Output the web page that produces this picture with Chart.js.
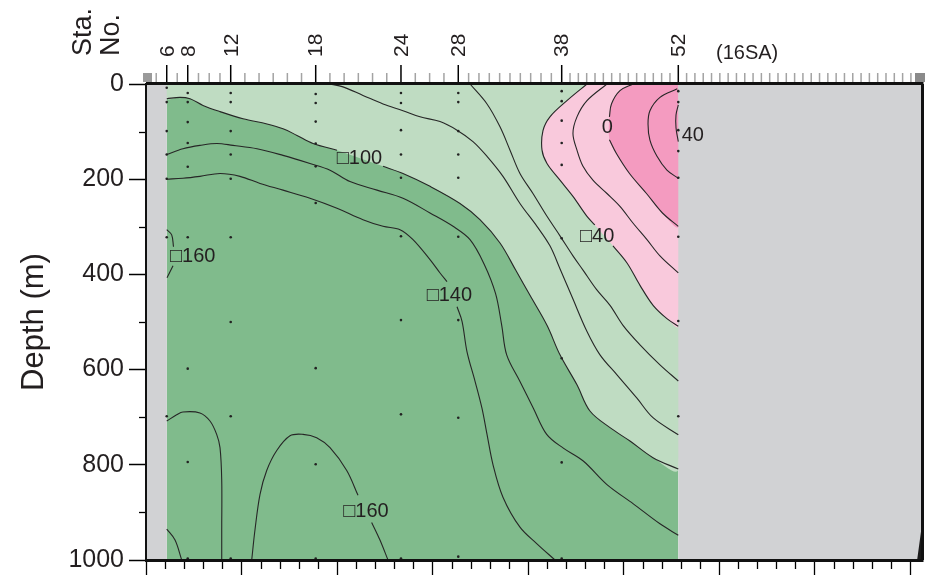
<!DOCTYPE html>
<html>
<head>
<meta charset="utf-8">
<script src="https://cdn.jsdelivr.net/npm/chart.js@4.4.0/dist/chart.umd.min.js"></script>
<style>
  html, body { margin: 0; padding: 0; background: #fff; }
  #wrap { width: 927px; height: 580px; }
</style>
</head>
<body>
<div id="wrap"><canvas id="section" width="927" height="580"></canvas></div>
<script>
// stations on the top axis and their distance along the section (km)
const stationNos = [6, 8, 12, 18, 24, 28, 38, 52];
const stationKm = [21.7, 43.7, 88.7, 177.7, 267, 327, 435.3, 557.4];
// sampling depths (m) per station
const sampleDepths = [
  [8, 38, 99, 148, 199, 322, 698],
  [19, 38, 80, 124, 174, 322, 598, 794, 997],
  [19, 38, 99, 148, 199, 322, 500, 698, 997],
  [21, 40, 79, 125, 173, 250, 597, 799, 997],
  [19, 40, 97, 148, 197, 320, 496, 694, 997],
  [19, 38, 99, 148, 197, 321, 496, 701, 993],
  [15, 36, 77, 124, 170, 324, 576, 795, 997],
  [15, 38, 97, 141, 197, 321, 498, 698]
];
const xMax = 812.6;
const depthTicks = [0, 200, 400, 600, 800, 1000];

// contour lines as [km, depth]; null = break for a label
const lineA = [[21.7,31],[35.6,28],[46.1,31],[59.7,45],[77.5,58],[101.6,73],[126.7,84],[143.5,94],[158.1,108],[174.9,125],[200,139],null,
  [248.2,173],[269.1,188],[297.4,215],[328.8,251],[349.7,285],[370.7,334],[387.4,392],[402.1,444],[419.9,507],[433.5,569],
  [451.3,632],[464.9,687],[485.9,722],[506.8,750],[530.9,785],[557.4,809]];
const lineB = [[21.7,148],[38.7,136],[56.5,129],[74.3,125],[91.1,129],[116.2,136],[143.5,150],[171.7,167],[192.7,181],[213.6,205],
  [241.9,223],[269.1,240],[297.4,271],[321.5,299],[339.3,327],[354,378],[366,440],[372.5,507],[377.7,569],[391.6,625],[405.6,681],
  [419.6,736],[437,765],[457.9,792],[482.4,841],[510.3,882],[538.2,924],[557.4,948]];
const lineC = [[21.7,200],[38.7,198],[56.5,194],[77.5,188],[98.4,194],[119.4,209],[143.5,223],[171.7,240],[200,261],[227.2,285],
  [248.2,299],[266,306],[279.6,327],[297.4,369],[307.9,397],[315.2,415],null,[325.7,468],[331,499],[336.1,562],[344.5,624],
  [351.8,681],[357.1,736],[363.4,800],[373.8,868],[391.6,931],[409.4,966],[428.3,1000]];
const lineD = [[192.7,0],[206.3,6],[227.2,24],[248.2,42],[269.1,56],[286.9,69],[307.9,79],[325.7,97],[342.4,121],[357.1,152],
  [373.8,194],[391.6,251],[409.4,299],[423,340],[433.5,388],[446.1,447],[461.8,520],[475.4,569],[493.2,611],[514.1,660],
  [530.9,701],[557.4,737]];
const lineE = [[339.3,0],[357.1,42],[370.7,90],[381.2,139],[391.6,188],[405.2,230],[419.9,278],[433.5,319],[447.1,361],[458,392],
  [471.9,432],[485.9,465],[499.5,507],[517.3,548],[538.2,590],[557.4,624]];
const lineF = [[461.8,0],[440.8,35],[423,69],[415.7,98],[414.7,139],[419.9,167],[433.5,202],[447.1,236],[461.8,278],[470,296],null,
  [489,340],[503.7,376],[517.3,423],[531,465],[545.5,493],[557.4,509]];
const lineG = [[482.7,0],[461.8,35],[451.3,69],[447.1,104],[451.3,139],[457.6,173],[468,202],[482.7,230],[496.3,257],[509.9,292],
  [524.6,327],[538.2,361],[557.4,397]];
const lineH = [[510,0],[496.3,14],[487.4,42],[485.3,69],null,[485.3,117],[492.6,146],[506.3,188],[524.1,230],[540.8,271],[557.4,299]];
const lineI = [[556.3,10],[538.2,28],[527.7,56],[525.7,84],[527.7,118],[535.1,152],[545.5,181],[557.4,198]];
const lineJ = [[557.4,44],[555,65],[555,92],[557.4,121]];
const lineL1 = [[21.7,306],[26.9,317],[28.8,342],null,[28.3,382],[22,407]];
const lineArch1 = [[21.7,708],[32.1,695],[38.7,689],[56.5,691],[67,708],[74,736],[77.5,764],[79.3,833],[79.3,937],[79.3,1000]];
const lineArch2 = [[110.7,1000],[114.1,937],[119.4,862],[126.4,812],[136.9,770],[150.8,739],[164.4,736],[178.7,743],[192.7,764],
  [210.2,812],[222,864],null,[236.3,921],[245,958],[253.4,1000]];
const lineL3 = [[21.7,935],[30.4,958],[37.4,1000]];
const seafloor = [[807.5,1000],[812.6,925],[812.6,1000]];

// contour labels
const labelText = ['\u25A1100', '\u25A1160', '\u25A1140', '\u25A140', '0', '40', '\u25A1160'];
const labelKm = [199.7, 25.1, 293.9, 454.5, 477.2, 561, 206.6];
const labelDepth = [157, 363, 444, 320, 92, 108, 898];

Chart.defaults.font.family = '"Liberation Sans", Arial, "DejaVu Sans", sans-serif';
const ink = '#231f20';

const toPts = arr => arr.map(p => p ? {x: p[0], y: p[1]} : {x: null, y: null});
const solid = arr => arr.filter(p => p).map(p => ({x: p[0], y: p[1]}));
const k0 = stationKm[0], kN = stationKm[stationKm.length - 1];

function area(data, color, order, tension) {
  return {data, backgroundColor: color, borderWidth: 0, pointRadius: 0, fill: 'shape', tension, order};
}
function contour(arr) {
  return {data: toPts(arr), borderColor: '#262626', borderWidth: 1.1, pointRadius: 0, fill: false,
    tension: 0.35, spanGaps: false, order: 5};
}

const dots = [];
stationKm.forEach((k, i) => sampleDepths[i].forEach(d => dots.push({x: k, y: d})));

const datasets = [
  area([{x:k0,y:0},{x:kN,y:0},{x:kN,y:1000},{x:k0,y:1000}], '#80bb8c', 20, 0),
  area([{x:k0,y:0}, ...solid(lineA), {x:kN,y:0}], '#bfdcc2', 19, 0.35),
  area([...solid(lineF), {x:kN,y:0}], '#f9c9dc', 18, 0.35),
  area([...solid(lineH), {x:kN,y:0}], '#f49bc0', 17, 0.35),
  area([{x:0,y:0},{x:k0,y:0},{x:k0,y:1000},{x:0,y:1000}], '#d1d2d4', 16, 0),
  area([{x:kN,y:0},{x:xMax,y:0},{x:xMax,y:1000},{x:kN,y:1000}], '#d1d2d4', 16, 0),
  area(solid(seafloor), '#1a1a1a', 15, 0),
  ...[lineA, lineB, lineC, lineD, lineE, lineF, lineG, lineH, lineI, lineJ, lineL1, lineArch1, lineArch2, lineL3].map(contour),
  {data: dots, showLine: false, pointRadius: 1.3, pointBackgroundColor: '#222', pointBorderWidth: 0, order: 1}
];

// station ticks on the top axis
const topMinor = [];
for (let i = 0; i < stationNos.length - 1; i++) {
  const n = stationNos[i + 1] - stationNos[i];
  const step = (stationKm[i + 1] - stationKm[i]) / n;
  for (let j = 1; j < n; j++) topMinor.push(stationKm[i] + j * step);
}
for (let v = k0 - 11; v > 6; v -= 11) topMinor.push(v);
for (let v = kN + 8.7; v < xMax - 10; v += 8.7) topMinor.push(v);

const sectionDecor = {
  id: 'sectionDecor',
  afterDatasetsDraw(chart) {
    const {ctx, scales: {x, y}} = chart;
    ctx.save();
    ctx.fillStyle = ink;
    ctx.font = '20px "Liberation Sans", Arial, "DejaVu Sans", sans-serif';
    ctx.textAlign = 'left';
    ctx.textBaseline = 'middle';
    labelText.forEach((t, i) => ctx.fillText(t, x.getPixelForValue(labelKm[i]), y.getPixelForValue(labelDepth[i])));
    ctx.restore();
  },
  afterDraw(chart) {
    const {ctx, chartArea: a, scales: {x, y}} = chart;
    ctx.save();
    // bottom ticks
    ctx.strokeStyle = '#000';
    ctx.lineWidth = 1.3;
    for (let v = 0; v <= xMax; v += 20) {
      const px = Math.round(x.getPixelForValue(v)) + 0.5;
      const len = v % 100 === 0 ? 15 : 9;
      ctx.beginPath(); ctx.moveTo(px, a.bottom); ctx.lineTo(px, a.bottom + len); ctx.stroke();
    }
    // left minor ticks
    for (let d = 100; d < 1000; d += 200) {
      const py = Math.round(y.getPixelForValue(d)) + 0.5;
      ctx.beginPath(); ctx.moveTo(a.left - 7, py); ctx.lineTo(a.left, py); ctx.stroke();
    }
    // top station ticks
    ctx.strokeStyle = '#a3a3a3';
    ctx.lineWidth = 1.5;
    topMinor.forEach(v => {
      const px = x.getPixelForValue(v);
      ctx.beginPath(); ctx.moveTo(px, a.top - 11); ctx.lineTo(px, a.top - 2); ctx.stroke();
    });
    ctx.fillStyle = '#9a9a9a';
    ctx.fillRect(a.left - 3, a.top - 11, 9, 9);
    ctx.fillStyle = '#8a8a8a';
    ctx.fillRect(a.right - 7, a.top - 11, 10, 9);
    ctx.strokeStyle = '#000';
    ctx.fillStyle = ink;
    ctx.font = '21px "Liberation Sans", Arial, sans-serif';
    ctx.textAlign = 'left';
    ctx.textBaseline = 'middle';
    stationNos.forEach((s, i) => {
      const px = x.getPixelForValue(stationKm[i]);
      ctx.beginPath(); ctx.moveTo(px, a.top - 19); ctx.lineTo(px, a.top); ctx.stroke();
      ctx.save();
      ctx.translate(px, a.top - 27);
      ctx.rotate(-Math.PI / 2);
      ctx.fillText(String(s), 0, 1);
      ctx.restore();
    });
    // captions
    ctx.font = '27px "Liberation Sans", Arial, sans-serif';
    [['Sta.', 84], ['No.', 112]].forEach(([t, cx]) => {
      ctx.save();
      ctx.translate(cx, 56);
      ctx.rotate(-Math.PI / 2);
      ctx.fillText(t, 0, 0);
      ctx.restore();
    });
    ctx.font = '20px "Liberation Sans", Arial, sans-serif';
    ctx.fillText('(16SA)', 716, 53);
    // frame
    ctx.strokeStyle = '#111';
    ctx.lineWidth = 2;
    ctx.strokeRect(a.left, a.top, a.right - a.left, a.bottom - a.top);
    ctx.lineWidth = 3;
    ctx.beginPath();
    ctx.moveTo(a.left, a.top - 0.5); ctx.lineTo(a.right + 1.5, a.top - 0.5);
    ctx.moveTo(a.right + 0.5, a.top); ctx.lineTo(a.right + 0.5, a.bottom);
    ctx.moveTo(a.left - 1, a.bottom + 0.5); ctx.lineTo(a.right + 1.5, a.bottom + 0.5);
    ctx.stroke();
    ctx.restore();
  }
};

new Chart(document.getElementById('section'), {
  type: 'line',
  data: {datasets},
  options: {
    responsive: false,
    animation: false,
    layout: {padding: {left: 0, right: 5, top: 0, bottom: 0}},
    plugins: {legend: {display: false}, tooltip: {enabled: false}},
    scales: {
      x: {type: 'linear', position: 'bottom', min: 0, max: xMax,
        grid: {display: false}, ticks: {display: false}, border: {display: false},
        afterFit: s => { s.height = 17; }},
      xTop: {type: 'linear', position: 'top', min: 0, max: xMax,
        grid: {display: false}, ticks: {display: false}, border: {display: false},
        afterFit: s => { s.height = 84; }},
      y: {reverse: true, min: 0, max: 1000,
        afterBuildTicks: s => { s.ticks = depthTicks.map(v => ({value: v})); },
        ticks: {color: ink, font: {size: 25}, padding: 5, callback: v => String(v)},
        grid: {drawOnChartArea: false, tickLength: 17, tickColor: '#000', tickWidth: 1.5},
        border: {display: false},
        title: {display: true, text: 'Depth (m)', color: ink, font: {size: 31}, padding: {top: 16, bottom: 0}},
        afterFit: s => { s.width = 146; }}
    }
  },
  plugins: [sectionDecor]
});
</script>
</body>
</html>
